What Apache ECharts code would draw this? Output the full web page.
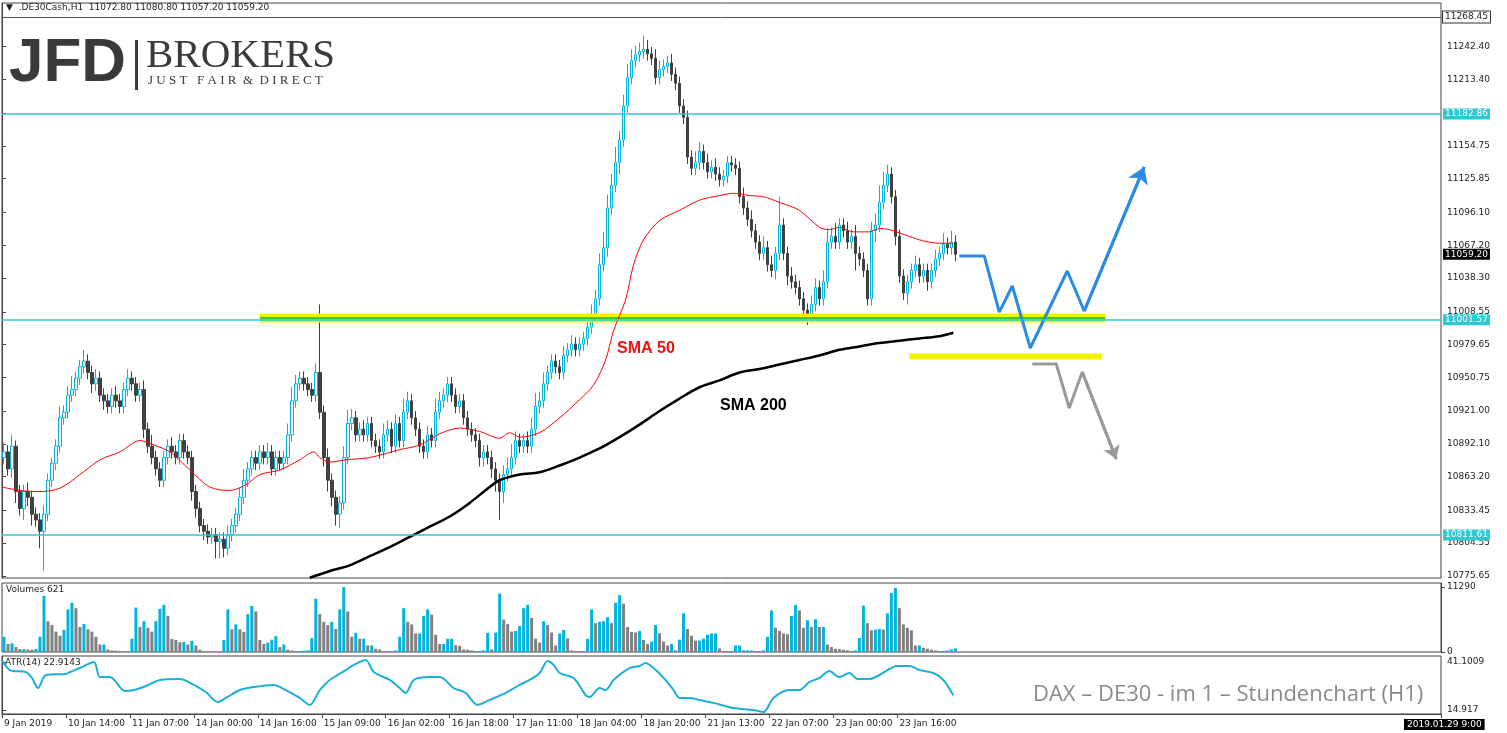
<!DOCTYPE html>
<html>
<head>
<meta charset="utf-8">
<script src="https://cdn.jsdelivr.net/npm/echarts@6/dist/echarts.min.js"></script>
<style>
  html, body { margin: 0; padding: 0; background: #fff; }
  #main { width: 1507px; height: 733px; }
</style>
</head>
<body>
<div id="main"></div>
<script>
// ===== 数据 =====
// 收盘价 (H1, 从 9 Jan 2019 起)
var closes = [
  10885, 10870, 10890, 10850, 10835, 10850, 10845, 10830, 10825, 10815,
  10830, 10860, 10875, 10890, 10915, 10920, 10935, 10940, 10950, 10960,
  10965, 10955, 10945, 10950, 10935, 10930, 10925, 10935, 10930, 10925,
  10940, 10950, 10945, 10935, 10940, 10905, 10890, 10880, 10870, 10860,
  10880, 10890, 10885, 10880, 10895, 10885, 10880, 10850, 10835, 10820,
  10815, 10810, 10812, 10806, 10808, 10800, 10812, 10820, 10830, 10845,
  10860, 10870, 10880, 10875, 10885, 10880, 10885, 10870, 10880, 10875,
  10880, 10900, 10930, 10945, 10950, 10945, 10940, 10935, 10955, 10920,
  10880, 10860, 10845, 10830, 10840, 10880, 10910, 10915, 10900, 10905,
  10900, 10910, 10895, 10890, 10885, 10900, 10905, 10890, 10910, 10895,
  10920, 10930, 10915, 10905, 10890, 10885, 10900, 10895, 10920, 10930,
  10935, 10945, 10935, 10925, 10930, 10915, 10905, 10900, 10895, 10880,
  10885, 10880, 10870, 10860, 10850, 10865, 10870, 10880, 10895, 10890,
  10895, 10890, 10905, 10925, 10930, 10945, 10955, 10965, 10960, 10955,
  10970, 10975, 10980, 10975, 10980, 10985, 10995, 11005, 11020, 11050,
  11065, 11100, 11120, 11140, 11160, 11190, 11215, 11230, 11235, 11238,
  11240, 11236, 11232, 11215, 11222, 11225, 11228, 11218, 11210, 11190,
  11180, 11145, 11135, 11140, 11150, 11140, 11132, 11136, 11130, 11125,
  11128, 11140, 11138, 11135, 11110, 11100, 11090, 11080, 11070, 11060,
  11065, 11050, 11045, 11060, 11085, 11060, 11040, 11035, 11030, 11020,
  11010, 11005, 11015, 11030, 11020, 11035, 11070, 11075, 11070, 11085,
  11080, 11070, 11075, 11060, 11055, 11045, 11020, 11080, 11085, 11105,
  11120, 11130, 11110, 11075, 11040, 11025, 11035, 11045, 11050, 11040,
  11045, 11035, 11045, 11055, 11060, 11068, 11065, 11070, 11059.2
];
var firstOpen = 10880;
// 上影线 / 下影线长度
var upW = [
  8,6,10,5,6,6,8,5,6,6,8,6,5,6,10,6,8,12,6,6,
  10,6,6,8,6,6,6,6,8,6,6,8,6,6,6,8,6,10,6,6,
  6,6,8,6,6,6,6,6,6,6,6,6,6,6,6,6,8,6,6,8,
  10,6,6,6,6,6,8,6,6,6,6,10,12,8,6,6,6,6,8,60,
  6,8,6,6,6,10,12,8,6,6,8,6,6,6,6,10,8,6,8,6,
  12,8,6,6,6,6,8,6,12,8,6,6,6,6,6,6,6,6,6,6,
  6,6,6,6,6,8,10,12,8,6,6,8,10,12,8,10,6,6,6,6,
  8,6,8,6,6,6,8,10,8,10,14,12,10,14,8,10,12,10,8,8,
  12,8,6,8,8,6,6,8,6,6,6,6,6,10,8,6,8,6,8,6,
  6,6,6,6,6,8,6,8,6,6,10,6,8,6,25,6,6,8,6,6,
  6,6,8,8,6,10,12,8,12,6,6,8,6,10,6,6,6,8,10,15,
  12,8,6,6,6,6,6,6,8,6,6,6,6,8,6,10,6,10,6
];
var dnW = [
  6,6,8,10,6,10,8,10,6,15,35,6,6,6,6,6,6,6,6,6,
  6,6,8,6,6,8,6,6,6,6,6,6,6,6,6,8,6,6,6,6,
  6,6,6,6,6,6,6,8,8,6,8,6,6,15,15,8,6,6,6,6,
  6,6,6,6,6,6,6,6,6,6,6,6,6,6,6,6,6,6,6,6,
  8,10,8,10,12,6,6,6,6,6,6,6,6,6,6,6,6,6,6,6,
  6,6,6,6,6,6,6,6,6,6,6,6,6,6,6,6,6,6,6,8,
  8,6,8,10,25,10,6,6,6,6,6,6,6,6,6,6,6,6,6,6,
  6,6,6,6,6,6,6,6,6,6,6,8,6,6,10,6,6,6,6,6,
  6,6,6,6,6,6,6,6,6,6,6,6,6,6,6,6,6,6,6,6,
  6,6,6,6,6,6,6,6,6,6,6,6,6,8,6,6,8,6,6,6,
  6,8,6,6,6,6,6,6,6,6,6,6,6,15,6,6,6,6,10,6,
  6,6,6,8,6,6,10,6,6,6,6,8,6,6,6,6,6,6,6
];
var volumes = [
  2650,1400,1500,850,500,500,450,400,500,2650,
  9770,5360,4690,3550,2820,3840,7400,8580,7620,4350,
  4860,3950,3550,2650,1300,1300,450,280,230,170,
  110,110,2310,7730,4350,5360,4230,3550,5360,7500,
  8190,6270,2260,2090,1700,1750,1300,1920,1130,400,
  100,100,100,100,100,2090,7400,3950,4800,3950,
  3500,6600,8020,7060,2090,1400,1640,2150,2770,850,
  1300,400,280,170,170,230,280,2430,9260,6600,
  5250,4690,5250,4010,7400,11290,7060,2650,3330,2310,
  2310,1130,1130,560,450,170,170,170,280,2650,
  7620,5250,4800,3220,3220,6270,7400,6490,2990,1400,
  1400,2310,2310,1190,1070,450,400,280,170,170,
  280,3330,450,3390,
  10160,5645,4850,3560,3670,4520,7620,8190,5930,2310,
  1640,5360,4690,3390,1130,3220,3840,2370,280,170,
  170,170,2310,7400,5020,5250,5360,6040,5020,8580,
  9880,8410,4350,3500,3390,3670,2090,1400,1810,4690,
  3270,1810,1130,1400,280,2150,6720,4010,2820,1980,
  1980,2310,2990,3220,3220,620,170,170,170,1130,
  1130,280,280,280,170,170,280,2650,7230,4230,
  3670,3220,3100,6270,8190,7230,4230,5530,4350,5700,
  4350,4350,1300,850,560,500,400,280,170,280,
  2430,8070,5020,3780,3900,4010,3900,6720,10270,11120,
  7620,4800,4230,3780,1130,1130,730,560,400,280,
  170,170,280,450,621
];
// [bar 位置, 值]
var sma50 = [[0,10854],[4.5,10851],[9.5,10850],[14.5,10853],[19.5,10865],[24.5,10878],[29.5,10885],
  [34.5,10895],[38,10891],[42,10885],[47,10869],[52,10854],[57,10851],[61,10856],[64.5,10865],
  [69.5,10869],[74.5,10878],[78,10885],[79.5,10880],[82,10876],[86,10878],[92,10880],[99.5,10887],
  [104.5,10891],[109.5,10901],[114.5,10906],[119.5,10903],[124.5,10897],[127,10902],[129.5,10898],
  [134.5,10902],[139.5,10915],[144.5,10931],[148,10944],[151,10966],[153,10992],[156,11019],
  [158,11050],[160.5,11072],[164.5,11089],[169.5,11098],[174.5,11107],[179.5,11111],[183,11113],
  [187,11111],[190.5,11110],[194.5,11105],[199.5,11098],[204.5,11083],[207,11081],[209.5,11083],
  [213,11079],[217,11079],[219.5,11082],[222,11081],[227,11075],[230.5,11071],[234.5,11069],[238,11069]];
var sma200 = [[77,10774],[82,10780],[87,10785],[92,10793],[97,10801],[102,10810],[107,10819],
  [112,10828],[117,10840],[122,10854],[124.5,10860],[129.5,10865],[134.5,10867],[139.5,10873],
  [144.5,10880],[149.5,10888],[154.5,10898],[159.5,10909],[164.5,10921],[169.5,10932],[174.5,10942],
  [179.5,10948],[184.5,10955],[189.5,10958],[194.5,10962],[199.5,10966],[204.5,10970],[209.5,10975],
  [214.5,10978],[219.5,10981],[224.5,10983],[229.5,10985],[234.5,10987],[238,10990]];
var atr = [[0,42.2],[2,36.7],[6,35.6],[7.5,32.4],[9,26.9],[11,34.0],[16,34.6],[17,35.6],[19.5,37.8],
  [23,41.1],[24.5,32.9],[27,32.9],[30.75,25.3],[33,25.8],[36,28.0],[39.5,31.3],[44.5,31.8],[48,28.6],
  [51,24.7],[54,19.3],[56,21.5],[59.5,25.8],[63,27.5],[68,28.6],[71,25.8],[74.5,21.5],[77,17.7],
  [79.5,25.8],[82,31.3],[86,36.7],[88,39.5],[91,42.2],[93,35.6],[97,31.3],[99.5,26.9],[101,24.2],
  [103,31.3],[107,32.9],[109.5,32.9],[113,26.9],[116,24.2],[119,17.7],[122,20.4],[126,24.2],
  [129.5,28.6],[132,31.3],[134.5,35.1],[136.5,41.6],[138,39.5],[139.5,35.1],[143,32.4],[146,23.1],
  [147,22.0],[149.5,26.9],[151,25.8],[153,31.3],[157,37.8],[159.5,38.9],[161,40.6],[163,37.8],
  [166,31.3],[168,25.8],[169.5,21.5],[172,21.5],[174.5,20.4],[178,18.8],[183,16.0],[188,14.9],
  [190.5,13.8],[193,21.5],[197,25.8],[199.5,25.8],[202,30.2],[204.5,32.4],[207,36.2],[209.5,32.9],
  [212,35.1],[214,31.8],[217,31.8],[219.5,34.0],[224,38.9],[227,38.9],[229.5,36.7],[233,35.1],
  [235.5,31.3],[238,22.9]];
// 价格刻度
var priceTicks = [10775.65, 10804.55, 10833.45, 10863.20, 10892.10, 10921.00, 10950.75, 10979.65,
  11008.55, 11038.30, 11067.20, 11096.10, 11125.85, 11154.75, 11183.65, 11213.40, 11242.40];
var volTicks = [0, 11290];
var atrTicks = [14.917, 41.1009];
var timeLabels = ['9 Jan 2019', '10 Jan 14:00', '11 Jan 07:00', '14 Jan 00:00', '14 Jan 16:00',
  '15 Jan 09:00', '16 Jan 02:00', '16 Jan 18:00', '17 Jan 11:00', '18 Jan 04:00', '18 Jan 20:00',
  '21 Jan 13:00', '22 Jan 07:00', '23 Jan 00:00', '23 Jan 16:00'];
// 水平线
var levels = [11182.86, 11001.57, 10811.61];
var topLevel = 11268.45;
var lastPrice = 11059.20;
// 支撑带 [起, 止, 价]
var band1 = [64.5, 276, 11003];
var band2 = [227, 275.25, 10969];
// 预测路径
var bluePath = [[239.5,11057.7],[245.75,11057.7],[249.5,11008.2],[252.75,11031.3],[257.25,10976.6],
  [266.5,11044.5],[270.75,11009.2],[285.75,11136.2]];
var grayPath = [[257.75,10962.5],[263.75,10962.5],[267,10923.7],[270.25,10955.4],[278.75,10878.7]];

// ===== 组装 =====
var SLOTS = 360;
var cats = [];
for (var i = 0; i < SLOTS; i++) cats.push(String(i));
var candles = [];
var prev = firstOpen;
for (var j = 0; j < closes.length; j++) {
  var o = prev, c = closes[j];
  candles.push([o, c, Math.min(o, c) - dnW[j], Math.max(o, c) + upW[j]]);
  prev = c;
}
var volData = volumes.map(function (v, k) {
  var up = k === 0 || v >= volumes[k - 1];
  return {value: v, itemStyle: {color: up ? '#00b4dc' : '#808080'}};
});

var CYAN = '#2ec8d0';
var font = 'Tahoma, "DejaVu Sans", sans-serif';
function boxLabel(bg, fg) {
  return {show: true, position: 'end', formatter: function (p) { return p.value.toFixed(2); },
    backgroundColor: bg, color: fg, fontSize: 9, fontFamily: font, padding: [1, 2], distance: 2,
    borderColor: '#333', borderWidth: bg === '#fff' ? 1 : 0};
}
// 路径 + 末端箭头
function pathSeries(path, color, size) {
  var n = path.length;
  return {type: 'line', xAxisIndex: 1, yAxisIndex: 0, data: path, showSymbol: false, silent: true,
    lineStyle: {color: color, width: 3},
    markLine: {silent: true, animation: false, symbol: ['none', 'arrow'], symbolSize: size,
      lineStyle: {color: color, width: 3, type: 'solid'}, label: {show: false},
      data: [[{coord: path[n - 2]}, {coord: path[n - 1]}]]}};
}
function showTick(idx) { return idx % 16 === 0 && idx / 16 < timeLabels.length; }

var chart = echarts.init(document.getElementById('main'));
chart.setOption({
  animation: false,
  backgroundColor: '#fff',
  textStyle: {fontFamily: font},
  grid: [
    {left: 2, right: 66, top: 3, height: 575, show: true, borderColor: '#444', borderWidth: 1},
    {left: 2, right: 66, top: 583, height: 69, show: true, borderColor: '#444', borderWidth: 1},
    {left: 2, right: 66, top: 656, height: 58, show: true, borderColor: '#444', borderWidth: 1}
  ],
  xAxis: [
    {type: 'category', gridIndex: 0, data: cats, show: false},
    {type: 'value', gridIndex: 0, min: 0, max: SLOTS, show: false},
    {type: 'category', gridIndex: 1, data: cats, show: false},
    {type: 'category', gridIndex: 2, data: cats, boundaryGap: true,
      axisLine: {lineStyle: {color: '#444'}},
      axisTick: {show: true, length: 4, lineStyle: {color: '#444'}, interval: showTick},
      axisLabel: {color: '#222', fontSize: 9, align: 'left', margin: 5, interval: showTick,
        formatter: function (v, idx) { return timeLabels[idx / 16] || ''; }}},
    {type: 'value', gridIndex: 2, min: 0, max: SLOTS, show: false}
  ],
  yAxis: [
    {type: 'value', gridIndex: 0, position: 'right', min: 10773.8, max: 11280.8, splitLine: {show: false},
      axisLine: {show: true, lineStyle: {color: '#444'}},
      axisTick: {show: true, length: 4, customValues: priceTicks},
      axisLabel: {fontSize: 9, color: '#222', margin: 6, customValues: priceTicks,
        formatter: function (v) { return v.toFixed(2); }}},
    {type: 'value', gridIndex: 1, position: 'right', min: 0, max: 12000, splitLine: {show: false},
      axisLine: {show: true, lineStyle: {color: '#444'}},
      axisTick: {show: true, length: 4, customValues: volTicks},
      axisLabel: {fontSize: 9, color: '#222', margin: 6, customValues: volTicks,
        formatter: function (v) { return String(v); }}},
    {type: 'value', gridIndex: 2, position: 'right', min: 12.73, max: 44.37, splitLine: {show: false},
      axisLine: {show: true, lineStyle: {color: '#444'}},
      axisTick: {show: true, length: 4, customValues: atrTicks},
      axisLabel: {fontSize: 9, color: '#222', margin: 6, customValues: atrTicks,
        formatter: function (v) { return String(v); }}}
  ],
  series: [
    {type: 'line', xAxisIndex: 1, yAxisIndex: 0, data: [], silent: true,
      markLine: {symbol: 'none', silent: true, animation: false,
        data: [
          {yAxis: topLevel, lineStyle: {color: '#555', width: 1, type: 'solid'}, label: boxLabel('#fff', '#222')},
          {yAxis: levels[0], lineStyle: {color: CYAN, width: 1.5, type: 'solid'}, label: boxLabel(CYAN, '#fff')},
          {yAxis: levels[1], lineStyle: {color: CYAN, width: 1.5, type: 'solid'}, label: boxLabel(CYAN, '#fff')},
          {yAxis: levels[2], lineStyle: {color: CYAN, width: 1.5, type: 'solid'}, label: boxLabel(CYAN, '#fff')},
          {yAxis: lastPrice, lineStyle: {color: 'rgba(0,0,0,0)', width: 0}, label: boxLabel('#000', '#fff')}
        ]}},
    {type: 'line', xAxisIndex: 1, yAxisIndex: 0, showSymbol: false, silent: true,
      data: [[band1[0], band1[2]], [band1[1], band1[2]]], lineStyle: {color: '#f2f200', width: 9}},
    {type: 'line', xAxisIndex: 1, yAxisIndex: 0, showSymbol: false, silent: true,
      data: [[band1[0], band1[2]], [band1[1], band1[2]]], lineStyle: {color: '#3cc83c', width: 2}},
    {type: 'line', xAxisIndex: 1, yAxisIndex: 0, showSymbol: false, silent: true,
      data: [[band2[0], band2[2]], [band2[1], band2[2]]], lineStyle: {color: '#f2f200', width: 6}},
    {type: 'candlestick', xAxisIndex: 0, yAxisIndex: 0, data: candles, barWidth: 3,
      itemStyle: {color: '#fff', color0: '#404040', borderColor: '#00b4dc', borderColor0: '#404040', borderWidth: 1}},
    {type: 'line', xAxisIndex: 1, yAxisIndex: 0, data: sma50, smooth: 0.3, showSymbol: false,
      lineStyle: {color: '#ff0000', width: 1}},
    {type: 'line', xAxisIndex: 1, yAxisIndex: 0, data: sma200, smooth: 0.3, showSymbol: false,
      lineStyle: {color: '#000', width: 2.5}},
    pathSeries(bluePath, '#2a8ae6', 16),
    pathSeries(grayPath, '#9a9a9a', 13),
    {type: 'bar', xAxisIndex: 2, yAxisIndex: 1, data: volData, barWidth: 3},
    {type: 'line', xAxisIndex: 4, yAxisIndex: 2, data: atr, smooth: 0.3, showSymbol: false,
      lineStyle: {color: '#1ab0d8', width: 2}}
  ],
  graphic: [
    {type: 'text', left: 6, top: 3, style: {text: '▼  .DE30Cash,H1  11072.80 11080.80 11057.20 11059.20',
      fontSize: 9, fill: '#222', fontFamily: font}},
    {type: 'text', left: 9, top: 33, style: {text: 'JFD', fontSize: 62, fontWeight: 'bold',
      fill: '#3a3a3a', fontFamily: '"Liberation Sans", Arial, sans-serif'}},
    {type: 'rect', shape: {x: 135, y: 40, width: 3, height: 50}, style: {fill: '#3a3a3a'}},
    {type: 'text', left: 146, top: 36, style: {text: 'BROKERS', fontSize: 41,
      fill: '#3a3a3a', fontFamily: '"Liberation Serif", "DejaVu Serif", serif'}},
    {type: 'text', left: 148, top: 74, style: {text: 'J U S T   F A I R  &  D I R E C T', fontSize: 13,
      fill: '#3a3a3a', fontFamily: '"Liberation Serif", "DejaVu Serif", serif'}},
    {type: 'text', left: 617, top: 341, style: {text: 'SMA 50', fontSize: 16, fontWeight: 'bold',
      fill: '#ee1111', fontFamily: '"Liberation Sans", Arial, sans-serif'}},
    {type: 'text', left: 720, top: 398, style: {text: 'SMA 200', fontSize: 16, fontWeight: 'bold',
      fill: '#000', fontFamily: '"Liberation Sans", Arial, sans-serif'}},
    {type: 'text', left: 6, top: 585, style: {text: 'Volumes 621', fontSize: 9, fill: '#222', fontFamily: font}},
    {type: 'text', left: 5, top: 658, style: {text: 'ATR(14) 22.9143', fontSize: 9, fill: '#222', fontFamily: font}},
    {type: 'text', left: 1033, top: 684, style: {text: 'DAX – DE30 - im 1 – Stundenchart (H1)', fontSize: 22,
      fill: '#8a8a8a', fontFamily: '"Open Sans", "Noto Sans", sans-serif'}},
    {type: 'text', left: 1404, top: 719, style: {text: '2019.01.29 9:00', fontSize: 9, fill: '#fff',
      backgroundColor: '#000', padding: [1, 3], fontFamily: font}}
  ]
});
</script>
</body>
</html>
